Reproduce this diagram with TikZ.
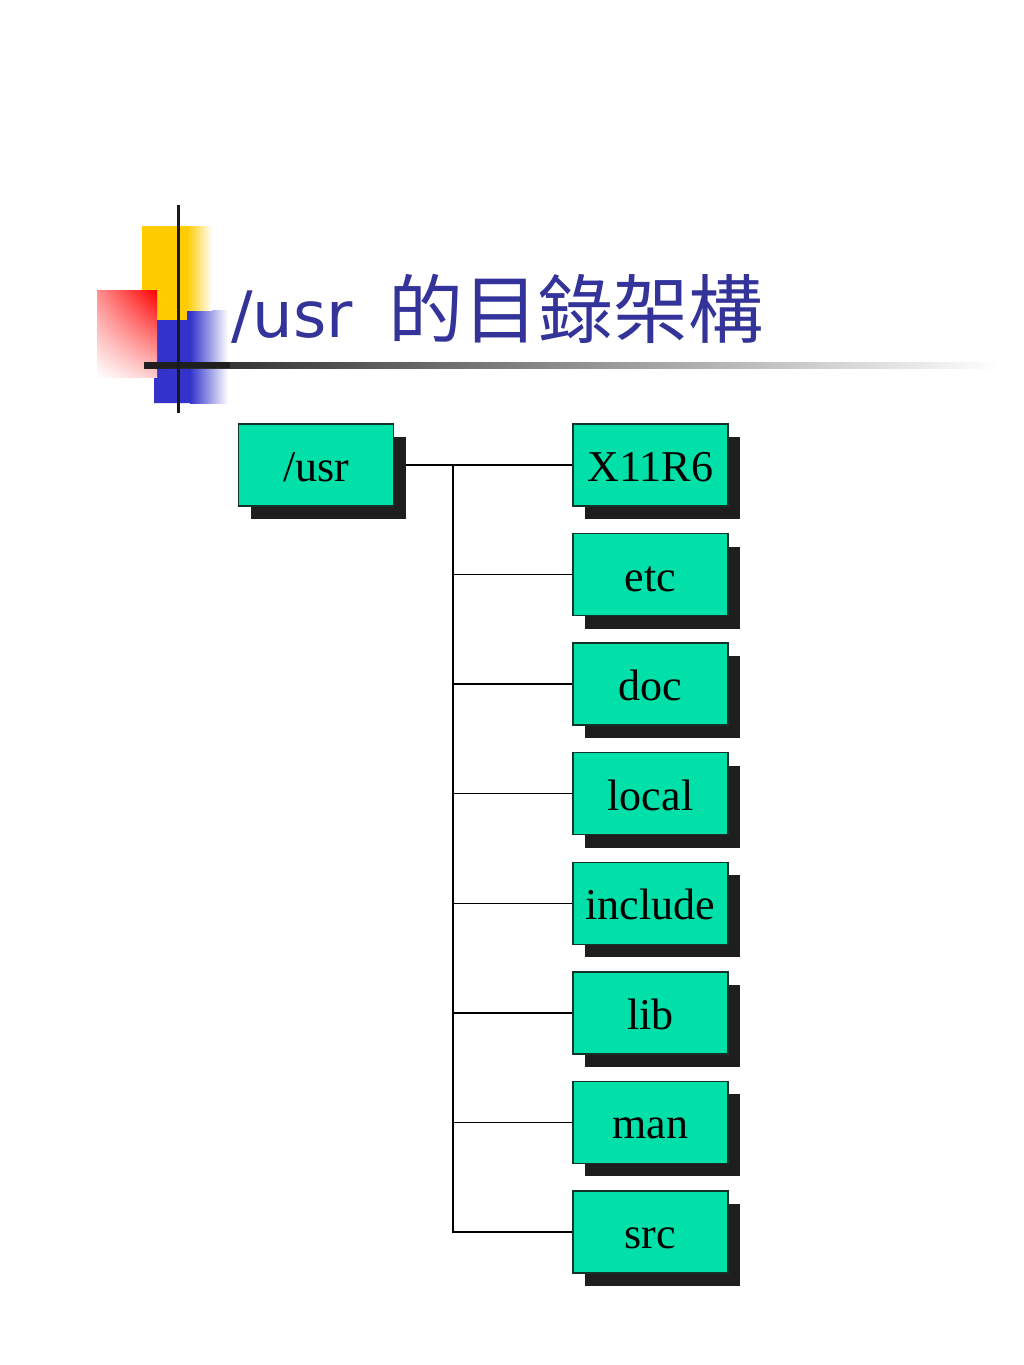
\documentclass[tikz,border=0pt]{standalone}
\usepackage{fontspec}
\setmainfont{Liberation Serif}
\newfontfamily\titlesans{DejaVu Sans}
\newfontfamily\cjk{Noto Sans CJK TC}
\usetikzlibrary{shadows,backgrounds,shadings}
\pgfdeclarelayer{paper}
\pgfsetlayers{paper,background,main}
\definecolor{boxgreen}{RGB}{0,224,168}
\definecolor{boxline}{RGB}{20,50,40}
\definecolor{shadowc}{RGB}{30,30,30}
\definecolor{titleblue}{RGB}{51,51,153}
\definecolor{decoyellow}{RGB}{255,204,0}
\definecolor{decoblue}{RGB}{51,51,204}
\definecolor{decored}{RGB}{255,0,0}
\tikzset{
  dirbox/.style={draw=boxline, line width=1.3pt, fill=boxgreen,
    minimum width=155pt, minimum height=82pt, inner sep=0pt,
    text height=33pt, text depth=0pt,
    font=\fontsize{44}{48}\selectfont,
    drop shadow={shadow xshift=12pt, shadow yshift=-13pt, fill=shadowc, opacity=1}},
  conn/.style={line width=1.3pt, black}
}
\begin{document}
\begin{tikzpicture}[x=1pt,y=-1pt]
\begin{pgfonlayer}{paper}
\fill[white] (0,0) rectangle (1024,1365);
\end{pgfonlayer}
\useasboundingbox (0,0) rectangle (1024,1365);
% decoration
\fill[decoblue] (154,320) -- (187,320) -- (187,310) -- (190,310) -- (190,403) -- (154,403) -- cycle;
\shade[left color=decoblue, right color=white] (190,310) rectangle (228,403);
\shade[left color=decoyellow, right color=white] (187,226) rectangle (212,310);
\fill[decoyellow] (142,226) rectangle (187,320);
\shade[upper left=decored!45, upper right=decored, lower left=white, lower right=decored!20] (97,290) rectangle (157,377);
\shade[left color=black!88, right color=white] (144,362) rectangle (1000,368);
\fill[black!88] (144,362) rectangle (230,368);
\fill[black!90] (176.5,205) rectangle (179.5,413);
% title
\node[anchor=base west, inner sep=0pt, text=titleblue] (title) at (231,337)
  {\fontsize{64}{70}\selectfont\titlesans /usr\hspace{36pt}\fontsize{75}{80}\selectfont\cjk 的目錄架構};
% boxes
\node[dirbox] (usr) at (316,465) {/usr};
\node[dirbox] (x11) at (650.5,465) {X11R6};
\node[dirbox] (etc) at (650.5,574.6) {etc};
\node[dirbox] (doc) at (650.5,684.1) {doc};
\node[dirbox] (local) at (650.5,793.7) {local};
\node[dirbox] (include) at (650.5,903.3) {include};
\node[dirbox] (lib) at (650.5,1012.9) {lib};
\node[dirbox] (man) at (650.5,1122.4) {man};
\node[dirbox] (src) at (650.5,1232) {src};
\coordinate (j) at (453,465);
\begin{pgfonlayer}{background}
\draw[conn] (usr.east) -- (x11.west);
\draw[conn] (j) |- (src.west);
\foreach \n in {etc,doc,local,include,lib,man}
  \draw[conn] (j |- \n.west) -- (\n.west);
\end{pgfonlayer}
\end{tikzpicture}
\end{document}
